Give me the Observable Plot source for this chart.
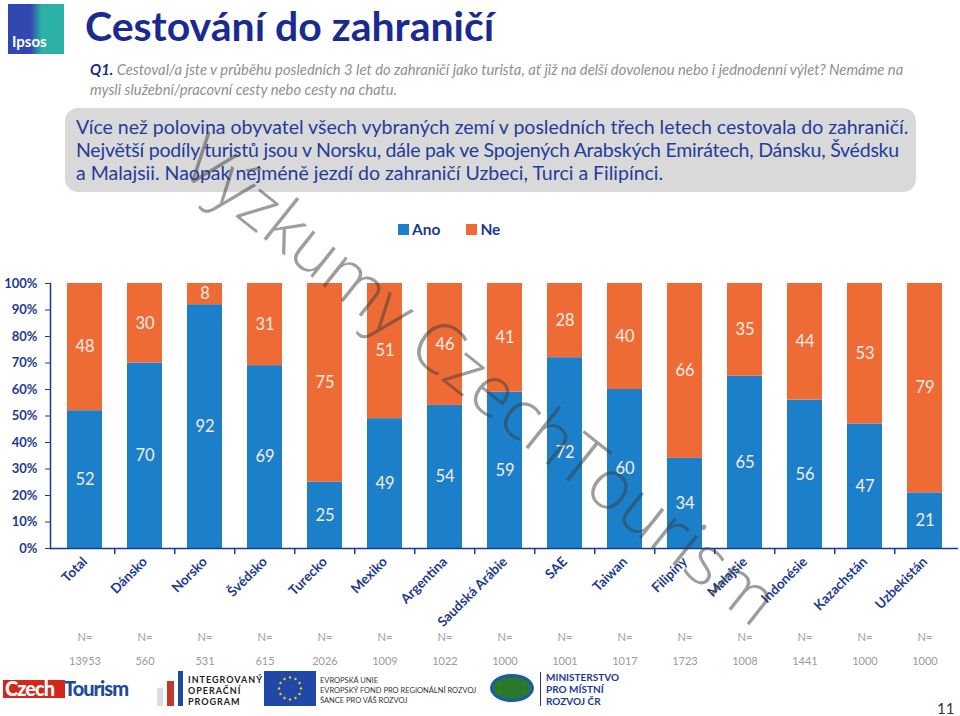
<!DOCTYPE html>
<html><head><meta charset="utf-8">
<script src="https://cdn.jsdelivr.net/npm/d3@7"></script>
<script src="https://cdn.jsdelivr.net/npm/@observablehq/plot@0.6"></script>
<style>
body{margin:0;background:#fff;font-family:Lato,"Open Sans",sans-serif;}
#page{position:relative;width:960px;height:716px;overflow:hidden;background:#fff;}
.abs{position:absolute;white-space:nowrap;}
#title{left:85px;top:1px;font-size:41px;font-weight:bold;color:#1a2b8f;}
.sub{left:90px;font-size:14.8px;font-style:italic;color:#8f8f8f;}
.sub b{color:#1a2b8f;}
#box{left:65px;top:108px;width:851px;height:84px;border-radius:13px;background:#d9d9d9;}
.bl{left:76px;font-size:19.5px;color:#1f3d9c;}
#legend{left:398px;top:220px;font-size:15.5px;font-weight:bold;color:#1b3a8f;display:flex;gap:26px;}
#legend span{display:inline-flex;align-items:center;gap:3px;}
#legend i{display:inline-block;width:11px;height:11px;}
#chart{position:absolute;left:0;top:270px;}
#wm{position:absolute;left:0;top:0;pointer-events:none;}
</style></head><body><div id="page">
<div class="abs" style="left:8px;top:4px;width:56px;height:50px;background:linear-gradient(90deg,#3347b0 0%,#3347b0 40%,#2bb1a6 60%,#2bb1a6 100%);"></div>
<div class="abs" style="left:12px;top:32px;font-size:15px;font-weight:bold;color:#fff;">Ipsos</div>
<div class="abs" id="title">Cestování do zahraničí</div>
<div class="abs sub" style="top:60px;"><b>Q1.</b> Cestoval/a jste v průběhu posledních 3 let do zahraničí jako turista, ať již na delší dovolenou nebo i jednodenní výlet? Nemáme na</div>
<div class="abs sub" style="top:80px;">mysli služební/pracovní cesty nebo cesty na chatu.</div>
<div class="abs" id="box"></div>
<div class="abs bl" style="top:115px;">Více než polovina obyvatel všech vybraných zemí v posledních třech letech cestovala do zahraničí.</div>
<div class="abs bl" style="top:138px;letter-spacing:-0.22px;">Největší podíly turistů jsou v Norsku, dále pak ve Spojených Arabských Emirátech, Dánsku, Švédsku</div>
<div class="abs bl" style="top:161px;">a Malajsii. Naopak nejméně jezdí do zahraničí Uzbeci, Turci a Filipínci.</div>
<div class="abs" id="legend"></div>
<div id="chart"></div>
<!-- bottom logos -->
<div class="abs" style="left:3px;top:680px;height:18px;background:#d5261c;width:62px;"></div>
<div class="abs" style="left:5px;top:676px;font-size:20px;font-weight:900;color:#fff;letter-spacing:-1px;">Czech</div>
<div class="abs" style="left:64px;top:676px;font-size:20px;font-weight:900;color:#1d4a9c;letter-spacing:-1px;">Tourism</div>
<div class="abs" style="left:157px;top:688px;width:6px;height:18px;background:#ddd;"></div>
<div class="abs" style="left:167px;top:681px;width:7px;height:25px;background:#c0392b;"></div>
<div class="abs" style="left:178px;top:671px;width:5px;height:35px;background:#1d4a9c;"></div>
<div class="abs" style="left:188px;top:674px;font-size:9px;font-weight:bold;color:#222;letter-spacing:1px;line-height:11px;">INTEGROVANÝ<br>OPERAČNÍ<br>PROGRAM</div>
<div class="abs" style="left:264px;top:671px;width:52px;height:35px;background:#1f48a8;"></div>
<svg class="abs" style="left:264px;top:671px;" width="52" height="35" id="eustars"></svg>
<div class="abs" style="left:320px;top:676px;font-size:7.5px;color:#333;line-height:10px;">EVROPSKÁ UNIE<br>EVROPSKÝ FOND PRO REGIONÁLNÍ ROZVOJ<br>ŠANCE PRO VÁŠ ROZVOJ</div>
<div class="abs" style="left:490px;top:674px;width:44px;height:28px;border-radius:50%;background:#2b7a2b;border:3px solid #1d58b0;box-sizing:border-box;"></div>
<div class="abs" style="left:540px;top:672px;width:1px;height:34px;background:#1b3a8f;"></div>
<div class="abs" style="left:546px;top:671px;font-size:10px;font-weight:bold;color:#1b3a8f;line-height:12px;">MINISTERSTVO<br>PRO MÍSTNÍ<br>ROZVOJ ČR</div>
<div class="abs" style="left:937px;top:699px;font-size:15px;color:#333;">11</div>
<svg id="wm" width="960" height="716"></svg>
</div>
<script>
const categories = ["Total","Dánsko","Norsko","Švédsko","Turecko","Mexiko","Argentina","Saudská Arábie","SAE","Taiwan","Filipíny","Malajsie","Indonésie","Kazachstán","Uzbekistán"];
const ano = [52,70,92,69,25,49,54,59,72,60,34,65,56,47,21];
const ne  = [48,30,8,31,75,51,46,41,28,40,66,35,44,53,79];
const sampleN = ["13953","560","531","615","2026","1009","1022","1000","1001","1017","1723","1008","1441","1000","1000"];
const seriesNames = ["Ano","Ne"];
const seriesColors = ["#1b80c9","#ef6b36"];
const yTicks = [0,10,20,30,40,50,60,70,80,90,100];

const rows = [];
categories.forEach((c,i)=>{
  rows.push({cat:c, series:"Ano", value:ano[i]});
  rows.push({cat:c, series:"Ne", value:ne[i]});
});

// legend
const lg = document.getElementById("legend");
seriesNames.forEach((s,i)=>{
  const sp = document.createElement("span");
  sp.innerHTML = `<i style="background:${seriesColors[i]}"></i>${s}`;
  lg.appendChild(sp);
});

// EU stars
const es = d3.select("#eustars");
d3.range(12).forEach(k=>{
  const a = k/12*2*Math.PI;
  es.append("circle").attr("cx",26+11*Math.cos(a)).attr("cy",17.5+11*Math.sin(a)).attr("r",1.2).attr("fill","#f5d000");
});

const W = 960, H = 410, mL = 50, mR = 2, mT = 13, mB = 132;
const step = (W - mL - mR) / categories.length;
const navy = "#1b3a8f";

const chart = Plot.plot({
  width: W, height: H,
  marginLeft: mL, marginRight: mR, marginTop: mT, marginBottom: mB,
  style: {fontFamily: "Lato, 'Open Sans', sans-serif", background: "transparent", overflow: "visible"},
  x: {domain: categories, paddingInner: 0.42, paddingOuter: 0.21, label: null},
  y: {domain: [0,100], label: null},
  color: {domain: seriesNames, range: seriesColors},
  marks: [
    Plot.barY(rows, {x:"cat", y:"value", fill:"series"}),
    Plot.text(rows, Plot.stackY({x:"cat", y:"value", text:"value", fill:"#f7ece4", fontSize:16.5})),
    Plot.axisY({ticks: yTicks, tickFormat: d => d + "%", tickSize: 5, tickPadding: 8, fontSize: 13, fontWeight: "bold", fill: navy, stroke: navy, label: null}),
    Plot.axisX({tickRotate: -45, tickSize: 0, tickPadding: 11, fontSize: 13.5, fontWeight: "bold", fill: navy, label: null}),
    Plot.ruleY([0], {stroke: navy, strokeWidth: 1.5}),
    Plot.frame({anchor: "left", stroke: navy, strokeWidth: 1.5}),
    Plot.ruleX(categories.slice(1), {x: d => d, y1: 0, y2: -2.3, dx: -step/2, stroke: navy, strokeWidth: 1.5}),
    Plot.text(categories, {x: d => d, frameAnchor: "bottom", text: () => "N=", dy: 92, fill: "#9a9a9a", fontSize: 11}),
    Plot.text(categories, {x: d => d, frameAnchor: "bottom", text: (d,i) => sampleN[i], dy: 116, fill: "#9a9a9a", fontSize: 11})
  ]
});
document.getElementById("chart").appendChild(chart);

// watermark
const wm = d3.select("#wm");
wm.append("text")
  .attr("transform", "translate(482,378) rotate(38.5)")
  .attr("text-anchor", "middle").attr("dominant-baseline", "central")
  .attr("font-family", "'Open Sans', Lato, sans-serif").attr("font-weight", 300)
  .attr("font-size", 70).attr("fill", "rgba(60,60,60,0.5)")
  .text("Výzkumy CzechTourism");
</script>
</body></html>
